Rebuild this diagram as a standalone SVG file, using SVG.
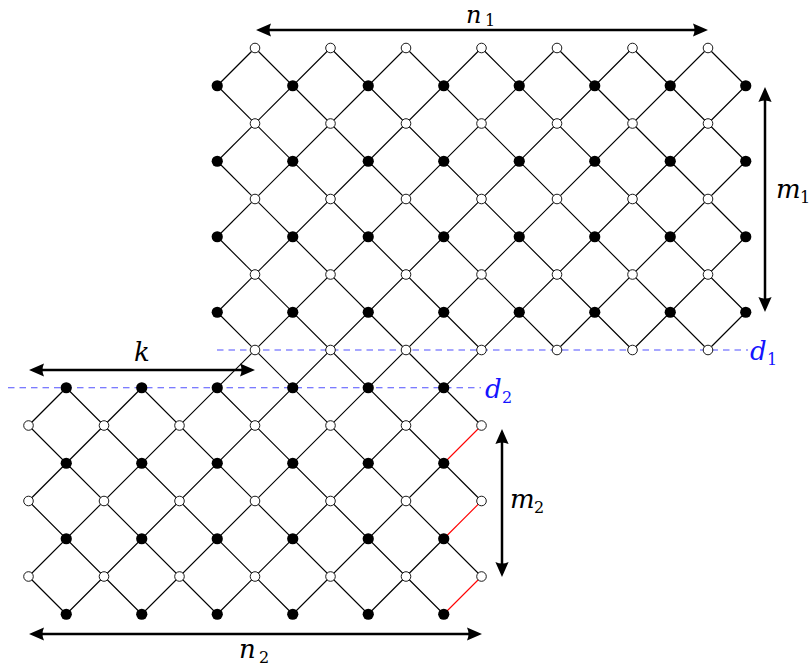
<svg xmlns="http://www.w3.org/2000/svg" width="811" height="668" viewBox="0 0 811 668">
<style>
.e{stroke:#000;stroke-width:1.15;fill:none;stroke-linecap:round}
.r{stroke:#ff0000;stroke-width:1.1;fill:none}
.d{stroke:#5050ff;stroke-width:1.1;stroke-dasharray:6.5 5;fill:none}
.w{fill:#fff;stroke:#000;stroke-width:0.9}
.b{fill:#000}
.a{stroke:#000;stroke-width:2.5;fill:none;marker-start:url(#ah);marker-end:url(#ah)}
.t{font-family:"DejaVu Serif","Liberation Serif",serif;font-style:italic;font-size:26px;fill:#000}
.s{font-size:16px;font-style:normal}
.bl{fill:#1414ff}
</style>
<defs>
<marker id="ah" viewBox="0 -7 15 14" refX="7" refY="0" markerWidth="15" markerHeight="14" markerUnits="userSpaceOnUse" orient="auto-start-reverse">
<path d="M0,-6.6 L15,0 L0,6.6 Q3,0 0,-6.6 Z" fill="#000"/>
</marker>
</defs>
<g id="edges">
<line class="e" x1="708" y1="48" x2="745.75" y2="85.75"/>
<line class="e" x1="632.5" y1="48" x2="745.75" y2="161.25"/>
<line class="e" x1="557" y1="48" x2="745.75" y2="236.75"/>
<line class="e" x1="481.5" y1="48" x2="745.75" y2="312.25"/>
<line class="e" x1="406" y1="48" x2="708" y2="350"/>
<line class="e" x1="330.5" y1="48" x2="632.5" y2="350"/>
<line class="e" x1="255" y1="48" x2="557" y2="350"/>
<line class="e" x1="217.25" y1="85.75" x2="481.5" y2="350"/>
<line class="e" x1="217.25" y1="161.25" x2="481.5" y2="425.5"/>
<line class="e" x1="217.25" y1="236.75" x2="481.5" y2="501"/>
<line class="e" x1="217.25" y1="312.25" x2="481.5" y2="576.5"/>
<line class="e" x1="217.25" y1="387.75" x2="443.75" y2="614.25"/>
<line class="e" x1="141.75" y1="387.75" x2="368.25" y2="614.25"/>
<line class="e" x1="66.25" y1="387.75" x2="292.75" y2="614.25"/>
<line class="e" x1="28.5" y1="425.5" x2="217.25" y2="614.25"/>
<line class="e" x1="28.5" y1="501" x2="141.75" y2="614.25"/>
<line class="e" x1="28.5" y1="576.5" x2="66.25" y2="614.25"/>
<line class="e" x1="255" y1="48" x2="217.25" y2="85.75"/>
<line class="e" x1="330.5" y1="48" x2="217.25" y2="161.25"/>
<line class="e" x1="406" y1="48" x2="217.25" y2="236.75"/>
<line class="e" x1="66.25" y1="387.75" x2="28.5" y2="425.5"/>
<line class="e" x1="481.5" y1="48" x2="217.25" y2="312.25"/>
<line class="e" x1="141.75" y1="387.75" x2="28.5" y2="501"/>
<line class="e" x1="557" y1="48" x2="28.5" y2="576.5"/>
<line class="e" x1="632.5" y1="48" x2="66.25" y2="614.25"/>
<line class="e" x1="708" y1="48" x2="141.75" y2="614.25"/>
<line class="e" x1="745.75" y1="85.75" x2="217.25" y2="614.25"/>
<line class="e" x1="745.75" y1="161.25" x2="557" y2="350"/>
<line class="e" x1="443.75" y1="463.25" x2="292.75" y2="614.25"/>
<line class="e" x1="745.75" y1="236.75" x2="632.5" y2="350"/>
<line class="e" x1="443.75" y1="538.75" x2="368.25" y2="614.25"/>
<line class="e" x1="745.75" y1="312.25" x2="708" y2="350"/>
<line class="r" x1="481.5" y1="425.5" x2="443.75" y2="463.25"/>
<line class="r" x1="481.5" y1="501" x2="443.75" y2="538.75"/>
<line class="r" x1="481.5" y1="576.5" x2="443.75" y2="614.25"/>
</g>
<g id="lines-d">
<line class="d" x1="217" y1="350" x2="748" y2="350"/>
<line class="d" x1="8" y1="387.75" x2="481" y2="387.75"/>
</g>
<g id="top-k0"><g id="t0-6"><circle class="w" cx="255" cy="48" r="4.8"/></g><g id="t0-8"><circle class="w" cx="330.5" cy="48" r="4.8"/></g><g id="t0-10"><circle class="w" cx="406" cy="48" r="4.8"/></g><g id="t0-12"><circle class="w" cx="481.5" cy="48" r="4.8"/></g><g id="t0-14"><circle class="w" cx="557" cy="48" r="4.8"/></g><g id="t0-16"><circle class="w" cx="632.5" cy="48" r="4.8"/></g><g id="t0-18"><circle class="w" cx="708" cy="48" r="4.8"/></g></g>
<g id="top-k1"><g id="t1-5"><circle class="b" cx="217.25" cy="85.75" r="5.6"/></g><g id="t1-7"><circle class="b" cx="292.75" cy="85.75" r="5.6"/></g><g id="t1-9"><circle class="b" cx="368.25" cy="85.75" r="5.6"/></g><g id="t1-11"><circle class="b" cx="443.75" cy="85.75" r="5.6"/></g><g id="t1-13"><circle class="b" cx="519.25" cy="85.75" r="5.6"/></g><g id="t1-15"><circle class="b" cx="594.75" cy="85.75" r="5.6"/></g><g id="t1-17"><circle class="b" cx="670.25" cy="85.75" r="5.6"/></g><g id="t1-19"><circle class="b" cx="745.75" cy="85.75" r="5.6"/></g></g>
<g id="top-k2"><g id="t2-6"><circle class="w" cx="255" cy="123.5" r="4.8"/></g><g id="t2-8"><circle class="w" cx="330.5" cy="123.5" r="4.8"/></g><g id="t2-10"><circle class="w" cx="406" cy="123.5" r="4.8"/></g><g id="t2-12"><circle class="w" cx="481.5" cy="123.5" r="4.8"/></g><g id="t2-14"><circle class="w" cx="557" cy="123.5" r="4.8"/></g><g id="t2-16"><circle class="w" cx="632.5" cy="123.5" r="4.8"/></g><g id="t2-18"><circle class="w" cx="708" cy="123.5" r="4.8"/></g></g>
<g id="top-k3"><g id="t3-5"><circle class="b" cx="217.25" cy="161.25" r="5.6"/></g><g id="t3-7"><circle class="b" cx="292.75" cy="161.25" r="5.6"/></g><g id="t3-9"><circle class="b" cx="368.25" cy="161.25" r="5.6"/></g><g id="t3-11"><circle class="b" cx="443.75" cy="161.25" r="5.6"/></g><g id="t3-13"><circle class="b" cx="519.25" cy="161.25" r="5.6"/></g><g id="t3-15"><circle class="b" cx="594.75" cy="161.25" r="5.6"/></g><g id="t3-17"><circle class="b" cx="670.25" cy="161.25" r="5.6"/></g><g id="t3-19"><circle class="b" cx="745.75" cy="161.25" r="5.6"/></g></g>
<g id="top-k4"><g id="t4-6"><circle class="w" cx="255" cy="199" r="4.8"/></g><g id="t4-8"><circle class="w" cx="330.5" cy="199" r="4.8"/></g><g id="t4-10"><circle class="w" cx="406" cy="199" r="4.8"/></g><g id="t4-12"><circle class="w" cx="481.5" cy="199" r="4.8"/></g><g id="t4-14"><circle class="w" cx="557" cy="199" r="4.8"/></g><g id="t4-16"><circle class="w" cx="632.5" cy="199" r="4.8"/></g><g id="t4-18"><circle class="w" cx="708" cy="199" r="4.8"/></g></g>
<g id="top-k5"><g id="t5-5"><circle class="b" cx="217.25" cy="236.75" r="5.6"/></g><g id="t5-7"><circle class="b" cx="292.75" cy="236.75" r="5.6"/></g><g id="t5-9"><circle class="b" cx="368.25" cy="236.75" r="5.6"/></g><g id="t5-11"><circle class="b" cx="443.75" cy="236.75" r="5.6"/></g><g id="t5-13"><circle class="b" cx="519.25" cy="236.75" r="5.6"/></g><g id="t5-15"><circle class="b" cx="594.75" cy="236.75" r="5.6"/></g><g id="t5-17"><circle class="b" cx="670.25" cy="236.75" r="5.6"/></g><g id="t5-19"><circle class="b" cx="745.75" cy="236.75" r="5.6"/></g></g>
<g id="top-k6"><g id="t6-6"><circle class="w" cx="255" cy="274.5" r="4.8"/></g><g id="t6-8"><circle class="w" cx="330.5" cy="274.5" r="4.8"/></g><g id="t6-10"><circle class="w" cx="406" cy="274.5" r="4.8"/></g><g id="t6-12"><circle class="w" cx="481.5" cy="274.5" r="4.8"/></g><g id="t6-14"><circle class="w" cx="557" cy="274.5" r="4.8"/></g><g id="t6-16"><circle class="w" cx="632.5" cy="274.5" r="4.8"/></g><g id="t6-18"><circle class="w" cx="708" cy="274.5" r="4.8"/></g></g>
<g id="top-k7"><g id="t7-5"><circle class="b" cx="217.25" cy="312.25" r="5.6"/></g><g id="t7-7"><circle class="b" cx="292.75" cy="312.25" r="5.6"/></g><g id="t7-9"><circle class="b" cx="368.25" cy="312.25" r="5.6"/></g><g id="t7-11"><circle class="b" cx="443.75" cy="312.25" r="5.6"/></g><g id="t7-13"><circle class="b" cx="519.25" cy="312.25" r="5.6"/></g><g id="t7-15"><circle class="b" cx="594.75" cy="312.25" r="5.6"/></g><g id="t7-17"><circle class="b" cx="670.25" cy="312.25" r="5.6"/></g><g id="t7-19"><circle class="b" cx="745.75" cy="312.25" r="5.6"/></g></g>
<g id="top-k8"><g id="t8-6"><circle class="w" cx="255" cy="350" r="4.8"/></g><g id="t8-8"><circle class="w" cx="330.5" cy="350" r="4.8"/></g><g id="t8-10"><circle class="w" cx="406" cy="350" r="4.8"/></g><g id="t8-12"><circle class="w" cx="481.5" cy="350" r="4.8"/></g><g id="t8-14"><circle class="w" cx="557" cy="350" r="4.8"/></g><g id="t8-16"><circle class="w" cx="632.5" cy="350" r="4.8"/></g><g id="t8-18"><circle class="w" cx="708" cy="350" r="4.8"/></g></g>
<g id="bot-k9"><g id="b9-1"><circle class="b" cx="66.25" cy="387.75" r="5.6"/></g><g id="b9-3"><circle class="b" cx="141.75" cy="387.75" r="5.6"/></g><g id="b9-5"><circle class="b" cx="217.25" cy="387.75" r="5.6"/></g><g id="b9-7"><circle class="b" cx="292.75" cy="387.75" r="5.6"/></g><g id="b9-9"><circle class="b" cx="368.25" cy="387.75" r="5.6"/></g><g id="b9-11"><circle class="b" cx="443.75" cy="387.75" r="5.6"/></g></g>
<g id="bot-k10"><g id="b10-0"><circle class="w" cx="28.5" cy="425.5" r="4.8"/></g><g id="b10-2"><circle class="w" cx="104" cy="425.5" r="4.8"/></g><g id="b10-4"><circle class="w" cx="179.5" cy="425.5" r="4.8"/></g><g id="b10-6"><circle class="w" cx="255" cy="425.5" r="4.8"/></g><g id="b10-8"><circle class="w" cx="330.5" cy="425.5" r="4.8"/></g><g id="b10-10"><circle class="w" cx="406" cy="425.5" r="4.8"/></g><g id="b10-12"><circle class="w" cx="481.5" cy="425.5" r="4.8"/></g></g>
<g id="bot-k11"><g id="b11-1"><circle class="b" cx="66.25" cy="463.25" r="5.6"/></g><g id="b11-3"><circle class="b" cx="141.75" cy="463.25" r="5.6"/></g><g id="b11-5"><circle class="b" cx="217.25" cy="463.25" r="5.6"/></g><g id="b11-7"><circle class="b" cx="292.75" cy="463.25" r="5.6"/></g><g id="b11-9"><circle class="b" cx="368.25" cy="463.25" r="5.6"/></g><g id="b11-11"><circle class="b" cx="443.75" cy="463.25" r="5.6"/></g></g>
<g id="bot-k12"><g id="b12-0"><circle class="w" cx="28.5" cy="501" r="4.8"/></g><g id="b12-2"><circle class="w" cx="104" cy="501" r="4.8"/></g><g id="b12-4"><circle class="w" cx="179.5" cy="501" r="4.8"/></g><g id="b12-6"><circle class="w" cx="255" cy="501" r="4.8"/></g><g id="b12-8"><circle class="w" cx="330.5" cy="501" r="4.8"/></g><g id="b12-10"><circle class="w" cx="406" cy="501" r="4.8"/></g><g id="b12-12"><circle class="w" cx="481.5" cy="501" r="4.8"/></g></g>
<g id="bot-k13"><g id="b13-1"><circle class="b" cx="66.25" cy="538.75" r="5.6"/></g><g id="b13-3"><circle class="b" cx="141.75" cy="538.75" r="5.6"/></g><g id="b13-5"><circle class="b" cx="217.25" cy="538.75" r="5.6"/></g><g id="b13-7"><circle class="b" cx="292.75" cy="538.75" r="5.6"/></g><g id="b13-9"><circle class="b" cx="368.25" cy="538.75" r="5.6"/></g><g id="b13-11"><circle class="b" cx="443.75" cy="538.75" r="5.6"/></g></g>
<g id="bot-k14"><g id="b14-0"><circle class="w" cx="28.5" cy="576.5" r="4.8"/></g><g id="b14-2"><circle class="w" cx="104" cy="576.5" r="4.8"/></g><g id="b14-4"><circle class="w" cx="179.5" cy="576.5" r="4.8"/></g><g id="b14-6"><circle class="w" cx="255" cy="576.5" r="4.8"/></g><g id="b14-8"><circle class="w" cx="330.5" cy="576.5" r="4.8"/></g><g id="b14-10"><circle class="w" cx="406" cy="576.5" r="4.8"/></g><g id="b14-12"><circle class="w" cx="481.5" cy="576.5" r="4.8"/></g></g>
<g id="bot-k15"><g id="b15-1"><circle class="b" cx="66.25" cy="614.25" r="5.6"/></g><g id="b15-3"><circle class="b" cx="141.75" cy="614.25" r="5.6"/></g><g id="b15-5"><circle class="b" cx="217.25" cy="614.25" r="5.6"/></g><g id="b15-7"><circle class="b" cx="292.75" cy="614.25" r="5.6"/></g><g id="b15-9"><circle class="b" cx="368.25" cy="614.25" r="5.6"/></g><g id="b15-11"><circle class="b" cx="443.75" cy="614.25" r="5.6"/></g></g>
<g id="arrows">
<line class="a" x1="264" y1="30" x2="700" y2="30"/>
<line class="a" x1="765" y1="95" x2="765" y2="304"/>
<line class="a" x1="37" y1="370" x2="247" y2="370"/>
<line class="a" x1="502" y1="437" x2="502" y2="569"/>
<line class="a" x1="37" y1="634" x2="474" y2="634"/>
</g>
<g id="labels">
<text class="t" x="466" y="23" style="font-size:24px">n<tspan class="s" x="485" y="26">1</tspan></text>
<text class="t" x="776" y="198">m<tspan class="s" x="800" y="203">1</tspan></text>
<text class="t" x="134" y="361">k</text>
<text class="t" x="510" y="508">m<tspan class="s" x="534" y="513">2</tspan></text>
<text class="t" x="239" y="658">n<tspan class="s" x="259" y="663">2</tspan></text>
<text class="t bl" x="750" y="360">d<tspan class="s" x="767" y="365">1</tspan></text>
<text class="t bl" x="485" y="398">d<tspan class="s" x="502" y="403">2</tspan></text>
</g>
</svg>
